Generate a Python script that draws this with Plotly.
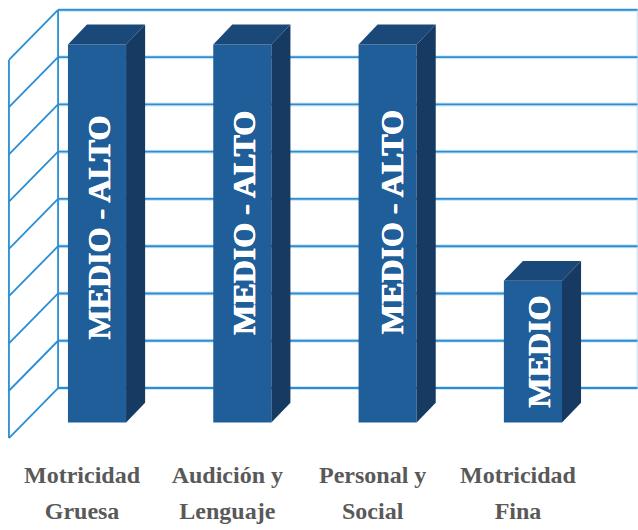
import plotly.graph_objects as go

# Data
categories = ["Motricidad<br>Gruesa", "Audición y<br>Lenguaje", "Personal y<br>Social", "Motricidad<br>Fina"]
values = [8, 8, 8, 3]
bar_labels = ["MEDIO - ALTO", "MEDIO - ALTO", "MEDIO - ALTO", "MEDIO"]
grid_levels = [0, 1, 2, 3, 4, 5, 6, 7, 8]

# Style / pseudo-3D geometry in data units
positions = list(range(len(categories)))
BAR_W = 0.40
DX, DY = 0.131, 0.42            # bar depth
WALL_X, WALL_Y = -0.268, 0.73   # back wall offset
SIDE_X, SIDE_Y = -0.606, -0.328 # front edge of the left wall
RIGHT_X = 3.72
LABEL_DX = -0.103               # category labels sit left of the bar centres
LABEL_SHIFT_X = [2, 2, 5, 6]    # px nudges of the text inside the bars
LABEL_SHIFT_Y = [6, 11, 11, 0]
GRID, HALO = "#2A8ED4", "#D3E6F5"
FRONT, TOP, SIDE = "#1F5E99", "#1A4879", "#163A61"

fig = go.Figure()

# Front faces
fig.add_trace(go.Bar(
    x=positions, y=values, width=BAR_W, marker=dict(color=FRONT, line=dict(width=0)),
    showlegend=False, hoverinfo="skip",
))

# Side and top faces
for p, v in zip(positions, values):
    r = p + BAR_W / 2
    l = p - BAR_W / 2
    fig.add_trace(go.Scatter(
        x=[r, r + DX, r + DX, r, r], y=[0, DY, v + DY, v, 0],
        mode="lines", fill="toself", fillcolor=SIDE, line=dict(width=0),
        showlegend=False, hoverinfo="skip"))
    fig.add_trace(go.Scatter(
        x=[l, l + DX, r + DX, r, l], y=[v, v + DY, v + DY, v, v],
        mode="lines", fill="toself", fillcolor=TOP, line=dict(width=0),
        showlegend=False, hoverinfo="skip"))

# Text on the bars
for p, v, t, sx, sy in zip(positions, values, bar_labels, LABEL_SHIFT_X, LABEL_SHIFT_Y):
    fig.add_annotation(x=p, y=v / 2, xref="x", yref="y", text=f"<b>{t}</b>", textangle=-90,
                       showarrow=False, xshift=sx, yshift=sy,
                       font=dict(family="Liberation Serif", size=32, color="white",
                                 shadow="0.6px 0 0.5px white, -0.6px 0 0.5px white"))

# Walls, behind the bars
halo = dict(color=HALO, width=4)
line = dict(color=GRID, width=1.8)
fig.add_shape(type="line", layer="below", xref="x", yref="y", line=dict(color=HALO, width=2),
              x0=RIGHT_X, x1=RIGHT_X, y0=grid_levels[0] + WALL_Y, y1=grid_levels[-1] + WALL_Y)
for g in grid_levels:
    fig.add_shape(type="line", layer="below", xref="x", yref="y", line=halo,
                  x0=WALL_X, x1=RIGHT_X, y0=g + WALL_Y, y1=g + WALL_Y)
for g in grid_levels:
    fig.add_shape(type="line", layer="below", xref="x", yref="y", line=line,
                  x0=WALL_X, x1=RIGHT_X, y0=g + WALL_Y, y1=g + WALL_Y)
    fig.add_shape(type="line", layer="below", xref="x", yref="y", line=line,
                  x0=SIDE_X, x1=WALL_X, y0=g + SIDE_Y, y1=g + WALL_Y)
top, bottom = grid_levels[-1], grid_levels[0]
fig.add_shape(type="line", layer="below", xref="x", yref="y", line=line,
              x0=WALL_X, x1=WALL_X, y0=bottom + WALL_Y, y1=top + WALL_Y)
fig.add_shape(type="line", layer="below", xref="x", yref="y", line=line,
              x0=SIDE_X, x1=SIDE_X, y0=bottom + SIDE_Y, y1=top + SIDE_Y)

ticktext = ['<br>'.join(f'<span style="font-size:24px"><b>{part}</b></span>' for part in c.split("<br>")) for c in categories]

fig.update_layout(
    width=638, height=530, margin=dict(l=0, r=0, t=0, b=78),
    paper_bgcolor="white", plot_bgcolor="white", showlegend=False,
    xaxis=dict(range=[-0.6676, 3.723], tickmode="array",
               tickvals=[p + LABEL_DX for p in positions], ticktext=ticktext,
               showgrid=False, zeroline=False, showline=False, ticks="",
               tickangle=0, automargin=False, ticklabelstandoff=2,
               tickfont=dict(family="Liberation Serif", size=28, color="#595959")),
    yaxis=dict(range=[-0.624, 8.94], visible=False),
)
fig.write_html("out.html", config={"displayModeBar": False},
               post_script="document.documentElement.style.margin='0';document.body.style.margin='0';")
